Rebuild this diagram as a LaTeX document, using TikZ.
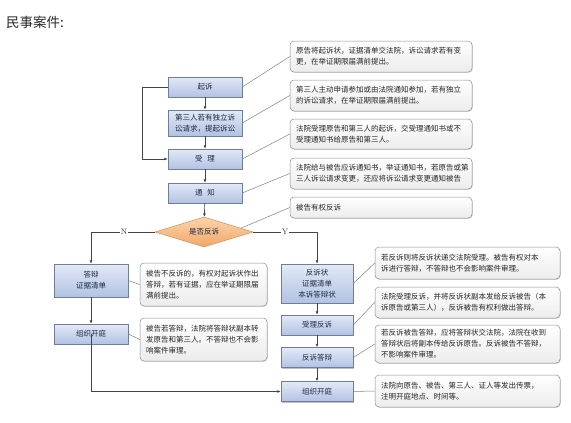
\documentclass[tikz,border=0pt]{standalone}
\usepackage{fontspec}
\newfontfamily\cjk{Noto Sans CJK SC}
\usetikzlibrary{shapes.geometric,arrows.meta,shadows,calc}
\definecolor{boxtop}{HTML}{E3E9F6}
\definecolor{boxbot}{HTML}{B2C2E2}
\definecolor{boxline}{HTML}{6E7E9A}
\definecolor{boxtext}{HTML}{1E2A44}
\definecolor{dtop}{HTML}{FBD4AC}
\definecolor{dbot}{HTML}{F2A866}
\definecolor{dline}{HTML}{C8905C}
\definecolor{noteline}{HTML}{8E8E8E}
\definecolor{notebot}{HTML}{ECECEC}
\definecolor{linec}{HTML}{454545}
\definecolor{leadc}{HTML}{808080}
\begin{document}
\begin{tikzpicture}[x=1pt,y=-1pt,
  font=\cjk\fontsize{7.5}{11}\selectfont,
  fbox/.style={draw=boxline, line width=0.5pt, top color=boxtop, bottom color=boxbot,
    minimum width=74pt, minimum height=20pt, inner sep=1pt, align=center, text=boxtext,
    drop shadow={shadow xshift=1.2pt, shadow yshift=-1.2pt, opacity=0.25, fill=black}},
  dia/.style={shape=diamond, draw=dline, line width=0.5pt, top color=dtop, bottom color=dbot,
    minimum width=98pt, minimum height=30pt, aspect=3.2, inner sep=0pt, text=boxtext},
  note/.style={draw=noteline, line width=0.5pt, rounded corners=4pt, top color=white,
    bottom color=notebot, align=left, inner xsep=6pt, inner ysep=2pt, text=black!85,
    drop shadow={shadow xshift=0.8pt, shadow yshift=-0.8pt, opacity=0.15, fill=black}},
  arr/.style={draw=linec, line width=0.65pt, -{Latex[length=3.5pt,width=3pt]}},
  lead/.style={draw=leadc, line width=0.5pt},
  lab/.style={fill=white, inner sep=1pt, font=\rmfamily\fontsize{8}{9}\selectfont, text=black!80}
]
\useasboundingbox (0,0) rectangle (571,423);

\node[anchor=west, font=\cjk\fontsize{13.5}{15}\selectfont, text=black!85, inner sep=0pt] (title) at (6,22.5) {民事案件:};

% left main column
\node[fbox] (qisu) at (205,87) {起诉};
\node[fbox, minimum height=26pt] (disan) at (205,123) {第三人若有独立诉\\讼请求，提起诉讼};
\node[fbox] (shouli) at (205,159) {受\hspace{5pt}理};
\node[fbox] (tongzhi) at (205,193) {通\hspace{5pt}知};
\node[dia] (d) at (204,232) {是否反诉};

% N branch
\node[fbox, minimum height=33pt] (dabian) at (91,280.5) {答辩\\证据清单};
\node[fbox] (zz1) at (91,334) {组织开庭};

% Y branch
\node[fbox, minimum width=72pt, minimum height=39pt] (fansu) at (317,283.5) {反诉状\\证据清单\\本诉答辩状};
\node[fbox, minimum width=72pt] (slfs) at (317,325) {受理反诉};
\node[fbox, minimum width=72pt] (fsdb) at (317,357.5) {反诉答辩};
\node[fbox, minimum width=72pt] (zz2) at (317,391.5) {组织开庭};

% notes top
\node[note, text width=170pt, minimum height=31pt] (nA) at (381,56.5) {原告将起诉状，证据清单交法院，诉讼请求若有变\\更，在举证期限届满前提出。};
\node[note, text width=170pt, minimum height=31pt] (nB) at (381,95.5) {第三人主动申请参加或由法院通知参加，若有独立\\的诉讼请求，在举证期限届满前提出。};
\node[note, text width=170pt, minimum height=30pt] (nC) at (381,134) {法院受理原告和第三人的起诉，交受理通知书或不\\受理通知书给原告和第三人。};
\node[note, text width=170pt, minimum height=31pt] (nD) at (381,173.5) {法院给与被告应诉通知书，举证通知书，若原告或第\\三人诉讼请求变更，还应将诉讼请求变更通知被告};
\node[note, text width=170pt, minimum height=21pt] (nE) at (381,207.5) {被告有权反诉};

% notes right
\node[note, text width=173pt, minimum height=32pt] (n1) at (467.5,263) {若反诉则将反诉状递交法院受理。被告有权对本\\诉进行答辩，不答辩也不会影响案件审理。};
\node[note, text width=173pt, minimum height=31pt] (n2) at (467.5,302.5) {法院受理反诉，并将反诉状副本发给反诉被告（本\\诉原告或第三人），反诉被告有权利做出答辩。};
\node[note, text width=173pt, minimum height=38pt] (n3) at (467.5,344) {若反诉被告答辩，应将答辩状交法院，法院在收到\\答辩状后将副本传给反诉原告。反诉被告不答辩，\\不影响案件审理。};
\node[note, text width=173pt, minimum height=32pt] (n4) at (467.5,391) {法院向原告、被告、第三人、证人等发出传票，\\注明开庭地点、时间等。};

% notes lower left
\node[note, text width=115pt, minimum height=43pt] (nL1) at (203.5,284.5) {被告不反诉的，有权对起诉状作出\\答辩，若有证据，应在举证期限届\\满前提出。};
\node[note, text width=115pt, minimum height=43pt] (nL2) at (203.5,339.5) {被告若答辩，法院将答辩状副本转\\发原告和第三人。不答辩也不会影\\响案件审理。};

% connectors main
\draw[arr] (qisu) -- (disan);
\draw[arr] (disan) -- (shouli);
\draw[arr] (shouli) -- (tongzhi);
\draw[arr] (tongzhi) -- (d);
\draw[arr] (qisu.west) -- ++(-25,0) |- (shouli.west);
\draw[arr] (d.west) -| node[pos=0.24, lab] {N} (dabian);
\draw[arr] (d.east) -| node[pos=0.25, lab] {Y} (fansu);
\draw[arr] (dabian) -- (zz1);
\draw[arr] (zz1.center) |- (zz2.west);
\draw[arr] (fansu) -- (slfs);
\draw[arr] (slfs) -- (fsdb);
\draw[arr] (fsdb) -- (zz2);

% leader lines
\draw[lead] (qisu.east) -- (nA.west);
\draw[lead] (disan.east) -- (nB.west);
\draw[lead] (shouli.east) -- (nC.west);
\draw[lead] (tongzhi.east) -- (nD.west);
\draw[lead] ($(d.north)!0.75!(d.east)$) -- (nE.west);
\draw[lead] (dabian.east) -- (nL1.west);
\draw[lead] (zz1.east) -- (nL2.west);
\draw[lead] (fansu.east) -- (n1.west);
\draw[lead] (slfs.east) -- (n2.west);
\draw[lead] (fsdb.east) -- (n3.west);
\draw[lead] (zz2.east) -- (n4.west);
\end{tikzpicture}
\end{document}
